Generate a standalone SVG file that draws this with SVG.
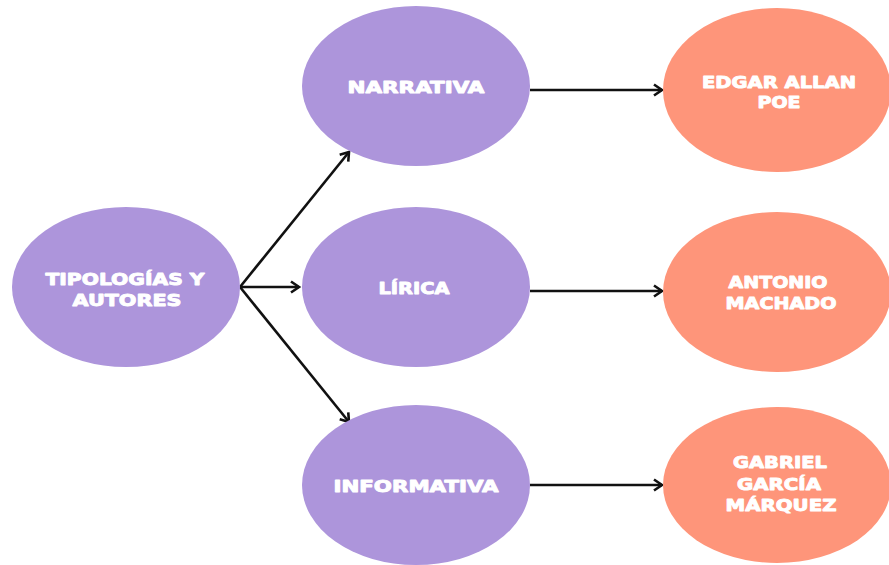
<svg xmlns="http://www.w3.org/2000/svg" width="889" height="565" viewBox="0 0 889 565">
<style>
.p{fill:#ad95db}
.o{fill:#fe957a}
.t{font-family:"DejaVu Sans","Liberation Sans",sans-serif;font-weight:bold;font-size:15.5px;fill:#fff;stroke:#fff;stroke-width:0.9;stroke-linejoin:round;text-anchor:middle}
.c{stroke:#111;stroke-width:2.6;fill:none}
</style>
<defs>
<marker id="ah" markerUnits="userSpaceOnUse" markerWidth="16" markerHeight="16" refX="11" refY="8" orient="auto" viewBox="0 0 16 16">
<path d="M3,2.5 L11,8 L3,13.5" fill="none" stroke="#111" stroke-width="2.6" stroke-linejoin="miter"/>
</marker>
</defs>
<rect width="889" height="565" fill="#fff"/>
<g id="connectors">
<line class="c" x1="240" y1="287" x2="349" y2="152" marker-end="url(#ah)"/>
<line class="c" x1="240" y1="287" x2="299" y2="287" marker-end="url(#ah)"/>
<line class="c" x1="240" y1="287" x2="349" y2="422" marker-end="url(#ah)"/>
<line class="c" x1="530" y1="90" x2="662" y2="90" marker-end="url(#ah)"/>
<line class="c" x1="530" y1="291" x2="662" y2="291" marker-end="url(#ah)"/>
<line class="c" x1="530" y1="485" x2="662" y2="485" marker-end="url(#ah)"/>
</g>
<g id="tipologias">
<ellipse class="p" cx="126" cy="287" rx="114" ry="80"/>
<text class="t" x="125" y="285" textLength="159" lengthAdjust="spacingAndGlyphs">TIPOLOGÍAS Y</text>
<text class="t" x="127" y="306" textLength="109" lengthAdjust="spacingAndGlyphs">AUTORES</text>
</g>
<g id="narrativa">
<ellipse class="p" cx="416" cy="86" rx="114" ry="80"/>
<text class="t" x="416" y="93" textLength="137" lengthAdjust="spacingAndGlyphs">NARRATIVA</text>
</g>
<g id="lirica">
<ellipse class="p" cx="416" cy="287" rx="114" ry="80"/>
<text class="t" x="414" y="294" textLength="71" lengthAdjust="spacingAndGlyphs">LÍRICA</text>
</g>
<g id="informativa">
<ellipse class="p" cx="416" cy="485" rx="114" ry="80"/>
<text class="t" x="416" y="492" textLength="165" lengthAdjust="spacingAndGlyphs">INFORMATIVA</text>
</g>
<g id="edgar">
<ellipse class="o" cx="777" cy="90" rx="114" ry="82"/>
<text class="t" x="779" y="88" textLength="154" lengthAdjust="spacingAndGlyphs">EDGAR ALLAN</text>
<text class="t" x="779" y="108" textLength="43" lengthAdjust="spacingAndGlyphs">POE</text>
</g>
<g id="antonio">
<ellipse class="o" cx="777" cy="292" rx="114" ry="80"/>
<text class="t" x="778" y="288" textLength="99" lengthAdjust="spacingAndGlyphs">ANTONIO</text>
<text class="t" x="781" y="309" textLength="111" lengthAdjust="spacingAndGlyphs">MACHADO</text>
</g>
<g id="gabriel">
<ellipse class="o" cx="777" cy="485" rx="114" ry="78"/>
<text class="t" x="780" y="468" textLength="94" lengthAdjust="spacingAndGlyphs">GABRIEL</text>
<text class="t" x="779" y="490" textLength="84" lengthAdjust="spacingAndGlyphs">GARCÍA</text>
<text class="t" x="781" y="511" textLength="111" lengthAdjust="spacingAndGlyphs">MÁRQUEZ</text>
</g>
</svg>
